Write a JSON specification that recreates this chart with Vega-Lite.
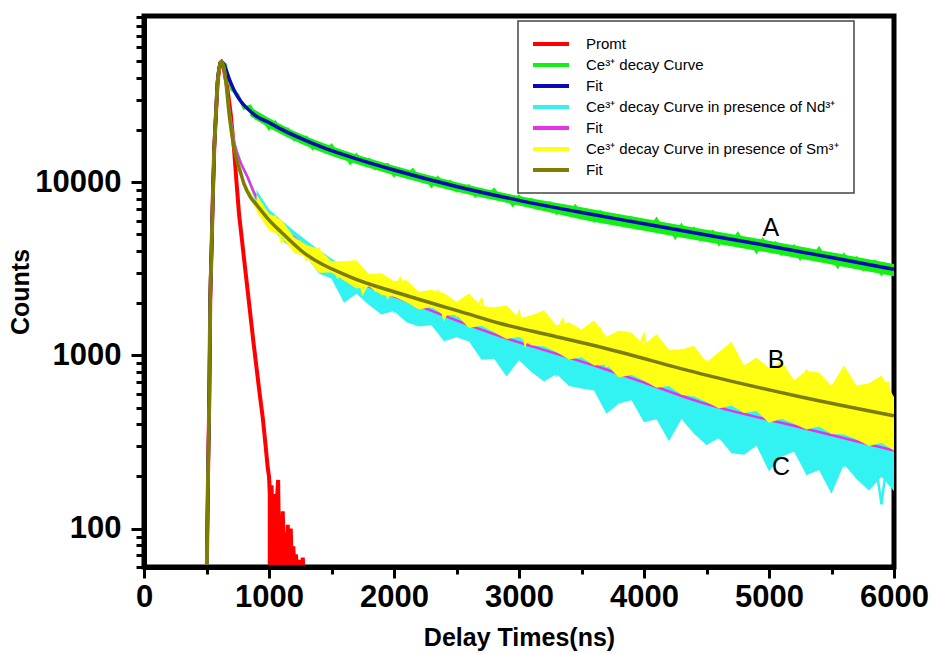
{
  "$schema": "https://vega.github.io/schema/vega-lite/v6.json",
  "width": 750,
  "height": 551,
  "autosize": {"type": "none"},
  "padding": {"left": 144, "top": 16, "right": 40, "bottom": 87},
  "background": "white",
  "config": {
    "view": {"stroke": "black", "strokeWidth": 5},
    "font": "Liberation Sans",
    "legend": {"strokeWidth": 1.5}
  },
  "datasets": {
    "red": [
      {"t":500,"v":40},{"t":505,"v":79},{"t":512,"v":200},{"t":522,"v":550},{"t":530,"v":2090},{"t":540,"v":3980},{"t":550,"v":7940},{"t":562,"v":15670},{"t":575,"v":24380},{"t":589,"v":38020},{"t":602,"v":45390},{"t":612,"v":48980},{"t":620,"v":49550},
      {"t":635,"v":46770},{"t":650,"v":40740},{"t":665,"v":35480},{"t":680,"v":29510},{"t":695,"v":24380},{"t":710,"v":18620},{"t":721,"v":15310},{"t":740,"v":10000},{"t":761,"v":6457},{"t":780,"v":4898},{"t":800,"v":3631},{"t":825,"v":2512},{"t":850,"v":1738},{"t":875,"v":1202},{"t":900,"v":851},{"t":925,"v":603},{"t":950,"v":437},{"t":970,"v":316},{"t":990,"v":224},{"t":1000,"v":200},{"t":1010,"v":151},{"t":1020,"v":178},{"t":1030,"v":112},{"t":1040,"v":158},{"t":1050,"v":89},{"t":1060,"v":132},{"t":1073,"v":191},{"t":1080,"v":79},{"t":1090,"v":112},{"t":1100,"v":71},{"t":1110,"v":126},{"t":1120,"v":63},{"t":1130,"v":95},{"t":1140,"v":56},{"t":1150,"v":105},{"t":1160,"v":50},{"t":1174,"v":100},{"t":1185,"v":50},{"t":1195,"v":79},{"t":1205,"v":50},{"t":1215,"v":71},{"t":1230,"v":50},{"t":1245,"v":66},{"t":1260,"v":50},{"t":1270,"v":68},{"t":1280,"v":50}
    ],
    "redTail": [
      {"t":990,"lo":40,"hi":224},{"t":1000,"lo":40,"hi":200},{"t":1010,"lo":40,"hi":165},{"t":1020,"lo":40,"hi":178},{"t":1030,"lo":40,"hi":140},{"t":1040,"lo":40,"hi":158},{"t":1050,"lo":40,"hi":125},{"t":1060,"lo":40,"hi":140},{"t":1073,"lo":40,"hi":191},{"t":1080,"lo":40,"hi":110},{"t":1090,"lo":40,"hi":118},{"t":1100,"lo":40,"hi":100},{"t":1110,"lo":40,"hi":115},{"t":1120,"lo":40,"hi":88},{"t":1130,"lo":40,"hi":95},{"t":1140,"lo":40,"hi":80},{"t":1150,"lo":40,"hi":90},{"t":1160,"lo":40,"hi":72},{"t":1174,"lo":40,"hi":95},{"t":1185,"lo":40,"hi":68},{"t":1195,"lo":40,"hi":75},{"t":1205,"lo":40,"hi":64},{"t":1215,"lo":40,"hi":70},{"t":1230,"lo":40,"hi":60},{"t":1245,"lo":40,"hi":66},{"t":1260,"lo":40,"hi":60},{"t":1270,"lo":40,"hi":66},{"t":1280,"lo":40,"hi":58},{"t":1285,"lo":40,"hi":40}
    ],
    "green": [
      {"t":500,"v":40},{"t":505,"v":79},{"t":512,"v":200},{"t":522,"v":550},{"t":530,"v":2090},{"t":540,"v":3980},{"t":550,"v":7940},{"t":562,"v":15670},{"t":575,"v":24380},{"t":589,"v":38020},{"t":602,"v":45390},{"t":612,"v":48980},{"t":620,"v":49550},
      {"t":650,"v":47860},{"t":700,"v":34280},{"t":750,"v":31990},{"t":800,"v":26730},{"t":850,"v":27540},{"t":900,"v":23440},{"t":950,"v":23500},{"t":1000,"v":20420},{"t":1050,"v":22230},{"t":1100,"v":19500},{"t":1150,"v":20230},{"t":1200,"v":17620},{"t":1250,"v":18160},{"t":1300,"v":18160},{"t":1350,"v":15630},{"t":1400,"v":16670},{"t":1450,"v":15030},{"t":1500,"v":16330},{"t":1550,"v":14450},{"t":1600,"v":14660},{"t":1650,"v":12910},{"t":1700,"v":14350},{"t":1750,"v":12850},{"t":1800,"v":13520},{"t":1850,"v":11970},{"t":1900,"v":12500},{"t":1950,"v":12620},{"t":2000,"v":10960},{"t":2050,"v":11820},{"t":2100,"v":10790},{"t":2150,"v":11790},{"t":2200,"v":10520},{"t":2250,"v":10730},{"t":2300,"v":9506},{"t":2350,"v":10610},{"t":2400,"v":9528},{"t":2450,"v":10060},{"t":2500,"v":8913},{"t":2550,"v":9376},{"t":2600,"v":9528},{"t":2650,"v":8337},{"t":2700,"v":9016},{"t":2750,"v":8260},{"t":2800,"v":9057},{"t":2850,"v":8110},{"t":2900,"v":8299},{"t":2950,"v":7379},{"t":3000,"v":8260},{"t":3050,"v":7464},{"t":3100,"v":7925},{"t":3150,"v":7063},{"t":3200,"v":7447},{"t":3250,"v":7586},{"t":3300,"v":6653},{"t":3350,"v":7211},{"t":3400,"v":6622},{"t":3450,"v":7278},{"t":3500,"v":6531},{"t":3550,"v":6707},{"t":3600,"v":5984},{"t":3650,"v":6722},{"t":3700,"v":6081},{"t":3750,"v":6464},{"t":3800,"v":5768},{"t":3850,"v":6088},{"t":3900,"v":6209},{"t":3950,"v":5452},{"t":4000,"v":5916},{"t":4050,"v":5377},{"t":4100,"v":6109},{"t":4150,"v":5340},{"t":4200,"v":5546},{"t":4250,"v":4814},{"t":4300,"v":5623},{"t":4350,"v":4949},{"t":4400,"v":5383},{"t":4450,"v":4661},{"t":4500,"v":5035},{"t":4550,"v":5185},{"t":4600,"v":4399},{"t":4650,"v":4922},{"t":4700,"v":4434},{"t":4750,"v":5041},{"t":4800,"v":4407},{"t":4850,"v":4580},{"t":4900,"v":3978},{"t":4950,"v":4648},{"t":5000,"v":4093},{"t":5050,"v":4449},{"t":5100,"v":3852},{"t":5150,"v":4158},{"t":5200,"v":4278},{"t":5250,"v":3626},{"t":5300,"v":4053},{"t":5350,"v":3648},{"t":5400,"v":4144},{"t":5450,"v":3620},{"t":5500,"v":3758},{"t":5550,"v":3261},{"t":5600,"v":3805},{"t":5650,"v":3346},{"t":5700,"v":3638},{"t":5750,"v":3148},{"t":5800,"v":3398},{"t":5850,"v":3495},{"t":5900,"v":2962},{"t":5950,"v":3310},{"t":6000,"v":2979}
    ],
    "greenBand": [
      {"t":850,"lo":23990,"hi":27230},{"t":1000,"lo":20650,"hi":23440},{"t":1250,"lo":16750,"hi":19010},{"t":1650,"lo":13060,"hi":14830},{"t":2000,"lo":10960,"hi":12450},{"t":2500,"lo":8810,"hi":10000},{"t":3000,"lo":7328,"hi":8318},{"t":3500,"lo":6095,"hi":7161},{"t":4000,"lo":5248,"hi":6166},{"t":4500,"lo":4519,"hi":5309},{"t":5000,"lo":3908,"hi":4592},{"t":5500,"lo":3350,"hi":3936},{"t":6000,"lo":2864,"hi":3365}
    ],
    "blue": [
      {"t":500,"v":40},{"t":505,"v":79},{"t":512,"v":200},{"t":522,"v":550},{"t":530,"v":2090},{"t":540,"v":3980},{"t":550,"v":7940},{"t":562,"v":15670},{"t":575,"v":24380},{"t":589,"v":38020},{"t":602,"v":45390},{"t":612,"v":48980},{"t":620,"v":49550},
      {"t":640,"v":47860},{"t":660,"v":43650},{"t":680,"v":39810},{"t":700,"v":36730},{"t":725,"v":33500},{"t":750,"v":31120},{"t":800,"v":27860},{"t":850,"v":25700},{"t":900,"v":23990},{"t":1000,"v":22130},{"t":1100,"v":20180},{"t":1250,"v":17950},{"t":1450,"v":15670},{"t":1650,"v":14000},{"t":2000,"v":11750},{"t":2500,"v":9441},{"t":3000,"v":7852},{"t":3500,"v":6683},{"t":4000,"v":5754},{"t":4500,"v":4955},{"t":5000,"v":4285},{"t":5500,"v":3673},{"t":6000,"v":3141}
    ],
    "cyanBand": [
      {"t":900,"lo":7194,"hi":9057},{"t":1000,"lo":5775,"hi":6982},{"t":1100,"lo":4624,"hi":6026},{"t":1200,"lo":4074,"hi":5248},{"t":1300,"lo":3719,"hi":4603},{"t":1400,"lo":2975,"hi":4055},{"t":1500,"lo":2773,"hi":3631},{"t":1600,"lo":2014,"hi":3266},{"t":1700,"lo":2270,"hi":3027},{"t":1800,"lo":1954,"hi":2864},{"t":1900,"lo":1722,"hi":2710},{"t":2000,"lo":1803,"hi":2564},{"t":2100,"lo":1552,"hi":2438},{"t":2200,"lo":1466,"hi":2317},{"t":2300,"lo":1493,"hi":2208},{"t":2400,"lo":1208,"hi":2099},{"t":2500,"lo":1274,"hi":1995},{"t":2600,"lo":1204,"hi":1897},{"t":2700,"lo":945,"hi":1807},{"t":2800,"lo":957,"hi":1718},{"t":2900,"lo":755,"hi":1644},{"t":3000,"lo":938,"hi":1581},{"t":3100,"lo":803,"hi":1521},{"t":3200,"lo":706,"hi":1462},{"t":3300,"lo":780,"hi":1406},{"t":3400,"lo":666,"hi":1352},{"t":3500,"lo":643,"hi":1300},{"t":3600,"lo":626,"hi":1250},{"t":3700,"lo":460,"hi":1197},{"t":3800,"lo":528,"hi":1146},{"t":3900,"lo":550,"hi":1096},{"t":4000,"lo":411,"hi":1050},{"t":4100,"lo":428,"hi":1005},{"t":4200,"lo":319,"hi":962},{"t":4300,"lo":429,"hi":920},{"t":4400,"lo":353,"hi":881},{"t":4500,"lo":304,"hi":843},{"t":4600,"lo":333,"hi":813},{"t":4700,"lo":272,"hi":782},{"t":4800,"lo":267,"hi":752},{"t":4900,"lo":301,"hi":723},{"t":5000,"lo":214,"hi":695},{"t":5100,"lo":259,"hi":670},{"t":5200,"lo":279,"hi":644},{"t":5300,"lo":203,"hi":622},{"t":5400,"lo":218,"hi":601},{"t":5500,"lo":159,"hi":581},{"t":5600,"lo":235,"hi":562},{"t":5700,"lo":193,"hi":543},{"t":5800,"lo":166,"hi":525},{"t":5900,"lo":199,"hi":508},{"t":6000,"lo":164,"hi":491}
    ],
    "cyan": [
      {"t":500,"v":40},{"t":505,"v":79},{"t":512,"v":200},{"t":522,"v":550},{"t":530,"v":2090},{"t":540,"v":3980},{"t":550,"v":7940},{"t":562,"v":15670},{"t":575,"v":24380},{"t":589,"v":38020},{"t":602,"v":45390},{"t":612,"v":48980},{"t":620,"v":49550},
      {"t":640,"v":45710},{"t":655,"v":38900},{"t":682,"v":25700},{"t":721,"v":16980},{"t":775,"v":12880},{"t":828,"v":10720},{"t":850,"v":9727},{"t":900,"v":7798},{"t":950,"v":7379},{"t":1000,"v":6116},{"t":1050,"v":5272},{"t":1100,"v":5540},{"t":1150,"v":4926},{"t":1200,"v":4380},{"t":1250,"v":4576},{"t":1300,"v":3936},{"t":1350,"v":3404},{"t":1400,"v":3610},{"t":1450,"v":3248},{"t":1500,"v":3258},{"t":1550,"v":2799},{"t":1600,"v":3119},{"t":1650,"v":2606},{"t":1700,"v":2323},{"t":1750,"v":2667},{"t":1800,"v":2404},{"t":1850,"v":2168},{"t":1900,"v":2460},{"t":1950,"v":2094},{"t":2000,"v":1803},{"t":2050,"v":2070},{"t":2100,"v":1866},{"t":2150,"v":1954},{"t":2200,"v":1722},{"t":2250,"v":1959},{"t":2300,"v":1675},{"t":2350,"v":1496},{"t":2400,"v":1726},{"t":2450,"v":1560},{"t":2500,"v":1413},{"t":2550,"v":1624},{"t":2600,"v":1337},{"t":2650,"v":1114},{"t":2700,"v":1354},{"t":2750,"v":1198},{"t":2800,"v":1291},{"t":2850,"v":1109},{"t":2900,"v":1334},{"t":2950,"v":1103},{"t":3000,"v":966},{"t":3050,"v":1179},{"t":3100,"v":1051},{"t":3150,"v":936},{"t":3200,"v":1123},{"t":3250,"v":929},{"t":3300,"v":780},{"t":3350,"v":952},{"t":3400,"v":846},{"t":3450,"v":916},{"t":3500,"v":793},{"t":3550,"v":966},{"t":3600,"v":767},{"t":3650,"v":658},{"t":3700,"v":843},{"t":3750,"v":733},{"t":3800,"v":638},{"t":3850,"v":802},{"t":3900,"v":637},{"t":3950,"v":514},{"t":4000,"v":659},{"t":4050,"v":573},{"t":4100,"v":634},{"t":4150,"v":531},{"t":4200,"v":668},{"t":4250,"v":530},{"t":4300,"v":453},{"t":4350,"v":579},{"t":4400,"v":505},{"t":4450,"v":439},{"t":4500,"v":556},{"t":4550,"v":433},{"t":4600,"v":340},{"t":4650,"v":463},{"t":4700,"v":398},{"t":4750,"v":454},{"t":4800,"v":373},{"t":4850,"v":497},{"t":4900,"v":382},{"t":4950,"v":321},{"t":5000,"v":437},{"t":5050,"v":375},{"t":5100,"v":322},{"t":5150,"v":429},{"t":5200,"v":330},{"t":5250,"v":260},{"t":5300,"v":354},{"t":5350,"v":304},{"t":5400,"v":347},{"t":5450,"v":285},{"t":5500,"v":379},{"t":5550,"v":285},{"t":5600,"v":234},{"t":5650,"v":335},{"t":5700,"v":282},{"t":5750,"v":237},{"t":5800,"v":331},{"t":5850,"v":245},{"t":5900,"v":138},{"t":5950,"v":267},{"t":6000,"v":225}
    ],
    "magenta": [
      {"t":500,"v":40},{"t":505,"v":79},{"t":512,"v":200},{"t":522,"v":550},{"t":530,"v":2090},{"t":540,"v":3980},{"t":550,"v":7940},{"t":562,"v":15670},{"t":575,"v":24380},{"t":589,"v":38020},{"t":602,"v":45390},{"t":612,"v":48980},{"t":620,"v":49550},
      {"t":640,"v":45710},{"t":655,"v":38900},{"t":682,"v":25700},{"t":721,"v":16980},{"t":775,"v":12880},{"t":828,"v":10720},{"t":881,"v":8710},{"t":990,"v":6457},{"t":1081,"v":5636},{"t":1250,"v":4467},{"t":1414,"v":3631},{"t":1653,"v":2818},{"t":2186,"v":1950},{"t":2851,"v":1288},{"t":3250,"v":1047},{"t":3650,"v":851},{"t":4050,"v":676},{"t":4449,"v":537},{"t":5248,"v":385},{"t":6000,"v":282}
    ],
    "yellowBand": [
      {"t":900,"lo":6761,"hi":8483},{"t":1000,"lo":5284,"hi":6592},{"t":1100,"lo":4842,"hi":6053},{"t":1200,"lo":3917,"hi":4826},{"t":1300,"lo":3698,"hi":4340},{"t":1400,"lo":2999,"hi":4117},{"t":1500,"lo":3013,"hi":3490},{"t":1600,"lo":2704,"hi":3499},{"t":1700,"lo":2432,"hi":3540},{"t":1800,"lo":2495,"hi":2938},{"t":1900,"lo":2228,"hi":2979},{"t":2000,"lo":2183,"hi":2685},{"t":2100,"lo":2028,"hi":2716},{"t":2200,"lo":1841,"hi":2328},{"t":2300,"lo":1901,"hi":2393},{"t":2400,"lo":1706,"hi":2291},{"t":2500,"lo":1718,"hi":2032},{"t":2600,"lo":1439,"hi":2280},{"t":2700,"lo":1483,"hi":1925},{"t":2800,"lo":1361,"hi":1895},{"t":2900,"lo":1242,"hi":1943},{"t":3000,"lo":1276,"hi":1641},{"t":3100,"lo":1146,"hi":1706},{"t":3200,"lo":1125,"hi":1820},{"t":3300,"lo":1045,"hi":1486},{"t":3400,"lo":946,"hi":1556},{"t":3500,"lo":975,"hi":1409},{"t":3600,"lo":873,"hi":1592},{"t":3700,"lo":887,"hi":1282},{"t":3800,"lo":746,"hi":1393},{"t":3900,"lo":773,"hi":1349},{"t":4000,"lo":713,"hi":1151},{"t":4100,"lo":650,"hi":1324},{"t":4200,"lo":665,"hi":1079},{"t":4300,"lo":593,"hi":1081},{"t":4400,"lo":579,"hi":1135},{"t":4500,"lo":538,"hi":914},{"t":4600,"lo":493,"hi":1047},{"t":4700,"lo":513,"hi":1197},{"t":4800,"lo":465,"hi":875},{"t":4900,"lo":478,"hi":973},{"t":5000,"lo":408,"hi":845},{"t":5100,"lo":430,"hi":927},{"t":5200,"lo":403,"hi":719},{"t":5300,"lo":373,"hi":813},{"t":5400,"lo":388,"hi":797},{"t":5500,"lo":352,"hi":667},{"t":5600,"lo":349,"hi":875},{"t":5700,"lo":327,"hi":669},{"t":5800,"lo":300,"hi":691},{"t":5900,"lo":312,"hi":765},{"t":6000,"lo":282,"hi":575}
    ],
    "yellow": [
      {"t":500,"v":40},{"t":505,"v":79},{"t":512,"v":200},{"t":522,"v":550},{"t":530,"v":2090},{"t":540,"v":3980},{"t":550,"v":7940},{"t":562,"v":15670},{"t":575,"v":24380},{"t":589,"v":38020},{"t":602,"v":45390},{"t":612,"v":48980},{"t":620,"v":49550},
      {"t":640,"v":45710},{"t":655,"v":38020},{"t":682,"v":24380},{"t":700,"v":19500},{"t":721,"v":15670},{"t":750,"v":12880},{"t":775,"v":11220},{"t":800,"v":9772},{"t":850,"v":8551},{"t":900,"v":7079},{"t":950,"v":7096},{"t":1000,"v":5929},{"t":1050,"v":6339},{"t":1100,"v":4546},{"t":1150,"v":4870},{"t":1200,"v":4188},{"t":1250,"v":4487},{"t":1300,"v":3573},{"t":1350,"v":3842},{"t":1400,"v":4108},{"t":1450,"v":3240},{"t":1500,"v":3388},{"t":1550,"v":2844},{"t":1600,"v":3289},{"t":1650,"v":2723},{"t":1700,"v":3258},{"t":1750,"v":2299},{"t":1800,"v":2695},{"t":1850,"v":2388},{"t":1900,"v":2799},{"t":1950,"v":2168},{"t":2000,"v":2463},{"t":2050,"v":2770},{"t":2100,"v":2111},{"t":2150,"v":2307},{"t":2200,"v":1945},{"t":2250,"v":2286},{"t":2300,"v":1932},{"t":2350,"v":2317},{"t":2400,"v":1639},{"t":2450,"v":1925},{"t":2500,"v":1710},{"t":2550,"v":2065},{"t":2600,"v":1524},{"t":2650,"v":1797},{"t":2700,"v":2097},{"t":2750,"v":1508},{"t":2800,"v":1690},{"t":2850,"v":1380},{"t":2900,"v":1702},{"t":2950,"v":1396},{"t":3000,"v":1766},{"t":3050,"v":1168},{"t":3100,"v":1440},{"t":3150,"v":1259},{"t":3200,"v":1552},{"t":3250,"v":1151},{"t":3300,"v":1366},{"t":3350,"v":1598},{"t":3400,"v":1157},{"t":3450,"v":1303},{"t":3500,"v":1072},{"t":3550,"v":1365},{"t":3600,"v":1069},{"t":3650,"v":1445},{"t":3700,"v":857},{"t":3750,"v":1122},{"t":3800,"v":948},{"t":3850,"v":1242},{"t":3900,"v":851},{"t":3950,"v":1062},{"t":4000,"v":1300},{"t":4050,"v":863},{"t":4100,"v":1009},{"t":4150,"v":787},{"t":4200,"v":1030},{"t":4250,"v":804},{"t":4300,"v":1086},{"t":4350,"v":644},{"t":4400,"v":843},{"t":4450,"v":713},{"t":4500,"v":933},{"t":4550,"v":621},{"t":4600,"v":817},{"t":4650,"v":1053},{"t":4700,"v":646},{"t":4750,"v":785},{"t":4800,"v":586},{"t":4850,"v":818},{"t":4900,"v":610},{"t":4950,"v":885},{"t":5000,"v":473},{"t":5050,"v":660},{"t":5100,"v":543},{"t":5150,"v":757},{"t":5200,"v":483},{"t":5250,"v":636},{"t":5300,"v":823},{"t":5350,"v":505},{"t":5400,"v":617},{"t":5450,"v":461},{"t":5500,"v":644},{"t":5550,"v":475},{"t":5600,"v":741},{"t":5650,"v":356},{"t":5700,"v":531},{"t":5750,"v":425},{"t":5800,"v":631},{"t":5850,"v":374},{"t":5900,"v":520},{"t":5950,"v":705},{"t":6000,"v":399}
    ],
    "olive": [
      {"t":500,"v":40},{"t":505,"v":79},{"t":512,"v":200},{"t":522,"v":550},{"t":530,"v":2090},{"t":540,"v":3980},{"t":550,"v":7940},{"t":562,"v":15670},{"t":575,"v":24380},{"t":589,"v":38020},{"t":602,"v":45390},{"t":612,"v":48980},{"t":620,"v":49550},
      {"t":640,"v":45710},{"t":655,"v":38020},{"t":682,"v":24380},{"t":700,"v":19500},{"t":721,"v":15670},{"t":750,"v":12880},{"t":775,"v":11220},{"t":800,"v":9772},{"t":855,"v":8128},{"t":900,"v":7413},{"t":990,"v":6166},{"t":1100,"v":5129},{"t":1254,"v":4046},{"t":1653,"v":2831},{"t":2053,"v":2270},{"t":2585,"v":1742},{"t":2851,"v":1528},{"t":3251,"v":1306},{"t":3650,"v":1117},{"t":4449,"v":785},{"t":5248,"v":577},{"t":6000,"v":448}
    ],
    "labels": [
      {"t":5014,"v":5445,"label":"A"},{"t":5056,"v":935,"label":"B"},{"t":5096,"v":228,"label":"C"}
    ]
  },
  "encoding": {
    "x": {
      "field": "t", "type": "quantitative",
      "scale": {"domain": [0, 6000], "nice": false, "zero": false},
      "axis": {
        "title": "Delay Times(ns)",
        "values": [0,500,1000,1500,2000,2500,3000,3500,4000,4500,5000,5500,6000],
        "labelExpr": "datum.value % 1000 == 0 ? format(datum.value, 'd') : ''",
        "labelFont": "Liberation Sans", "labelFontSize": 31, "labelFontWeight": "bold", "labelColor": "black",
        "labelFlush": false, "labelOverlap": false, "labelPadding": 4,
        "tickColor": "black", "tickWidth": 3,
        "tickSize": {"condition": {"test": "datum.value % 1000 == 0", "value": 11}, "value": 7},
        "domain": true, "domainColor": "black", "domainWidth": 5,
        "grid": false, "zindex": 1,
        "titleFont": "Liberation Sans", "titleFontSize": 25, "titleFontWeight": "bold", "titleColor": "black", "titlePadding": 13
      }
    },
    "y": {
      "field": "v", "type": "quantitative",
      "scale": {"type": "log", "domain": [60, 91100], "nice": false},
      "axis": {
        "title": "Counts",
        "values": [60,70,80,90,100,200,300,400,500,600,700,800,900,1000,2000,3000,4000,5000,6000,7000,8000,9000,10000,20000,30000,40000,50000,60000,70000,80000,90000],
        "labelExpr": "(datum.value == 100 || datum.value == 1000 || datum.value == 10000) ? format(datum.value, 'd') : ''",
        "labelFont": "Liberation Sans", "labelFontSize": 31, "labelFontWeight": "bold", "labelColor": "black",
        "labelOverlap": false, "labelPadding": 10,
        "tickColor": "black", "tickWidth": 3,
        "tickSize": {"condition": {"test": "datum.value == 100 || datum.value == 1000 || datum.value == 10000", "value": 13}, "value": 8},
        "domain": true, "domainColor": "black", "domainWidth": 5,
        "grid": false, "zindex": 1,
        "titleFont": "Liberation Sans", "titleFontSize": 25, "titleFontWeight": "bold", "titleColor": "black", "titlePadding": 1
      }
    }
  },
  "layer": [
    {
      "data": {"name": "red"},
      "mark": {"type": "line", "strokeWidth": 4, "clip": true},
      "encoding": {
        "color": {
          "datum": "Promt",
          "scale": {
            "domain": ["Promt", "Ce\u00b3\u207a decay Curve", "Fit1", "Ce\u00b3\u207a decay Curve in presence of Nd\u00b3\u207a", "Fit2", "Ce\u00b3\u207a decay Curve in presence of Sm\u00b3\u207a", "Fit3"],
            "range": ["#ff0000", "#14f014", "#0a0ab4", "#33f2f2", "#e632e6", "#ffff14", "#7d7d00"]
          },
          "legend": {
            "title": null, "orient": "none", "legendX": 374, "legendY": 5,
            "symbolType": "M-3,0H3", "symbolSize": 144, "symbolStrokeWidth": 4, "symbolOffset": 10,
            "labelFont": "Liberation Sans", "labelFontSize": 15, "labelColor": "black", "labelLimit": 500, "labelOffset": 27,
            "labelExpr": "indexof(datum.label, 'Fit') == 0 ? 'Fit' : (datum.label == 'Promt' ? '\u00a0Promt' : datum.label)",
            "padding": 15, "rowPadding": 5,
            "strokeColor": "#444444", "fillColor": "white"
          }
        }
      }
    },
    {
      "data": {"name": "redTail"},
      "mark": {"type": "area", "color": "#ff0000", "clip": true},
      "encoding": {"y": {"field": "lo", "type": "quantitative", "title": "Counts"}, "y2": {"field": "hi"}}
    },
    {
      "data": {"name": "greenBand"},
      "mark": {"type": "area", "color": "#14f014", "clip": true, "interpolate": "monotone"},
      "encoding": {"y": {"field": "lo", "type": "quantitative", "title": "Counts"}, "y2": {"field": "hi"}}
    },
    {
      "data": {"name": "green"},
      "mark": {"type": "line", "strokeWidth": 3, "clip": true},
      "encoding": {"color": {"datum": "Ce\u00b3\u207a decay Curve"}}
    },
    {
      "data": {"name": "blue"},
      "mark": {"type": "line", "strokeWidth": 3.5, "clip": true, "interpolate": "monotone"},
      "encoding": {"color": {"datum": "Fit1"}}
    },
    {
      "data": {"name": "cyanBand"},
      "mark": {"type": "area", "color": "#33f2f2", "clip": true},
      "encoding": {"y": {"field": "lo", "type": "quantitative", "title": "Counts"}, "y2": {"field": "hi"}}
    },
    {
      "data": {"name": "cyan"},
      "mark": {"type": "line", "strokeWidth": 2.5, "clip": true},
      "encoding": {"color": {"datum": "Ce\u00b3\u207a decay Curve in presence of Nd\u00b3\u207a"}}
    },
    {
      "data": {"name": "magenta"},
      "mark": {"type": "line", "strokeWidth": 2.5, "clip": true, "interpolate": "monotone"},
      "encoding": {"color": {"datum": "Fit2"}}
    },
    {
      "data": {"name": "yellowBand"},
      "mark": {"type": "area", "color": "#ffff14", "clip": true},
      "encoding": {"y": {"field": "lo", "type": "quantitative", "title": "Counts"}, "y2": {"field": "hi"}}
    },
    {
      "data": {"name": "yellow"},
      "mark": {"type": "line", "strokeWidth": 2.5, "clip": true},
      "encoding": {"color": {"datum": "Ce\u00b3\u207a decay Curve in presence of Sm\u00b3\u207a"}}
    },
    {
      "data": {"name": "olive"},
      "mark": {"type": "line", "strokeWidth": 3.5, "clip": true, "interpolate": "monotone"},
      "encoding": {"color": {"datum": "Fit3"}}
    },
    {
      "data": {"name": "labels"},
      "mark": {"type": "text", "font": "Liberation Sans", "fontSize": 25, "color": "black", "align": "center", "baseline": "middle"},
      "encoding": {"text": {"field": "label"}}
    }
  ]
}
